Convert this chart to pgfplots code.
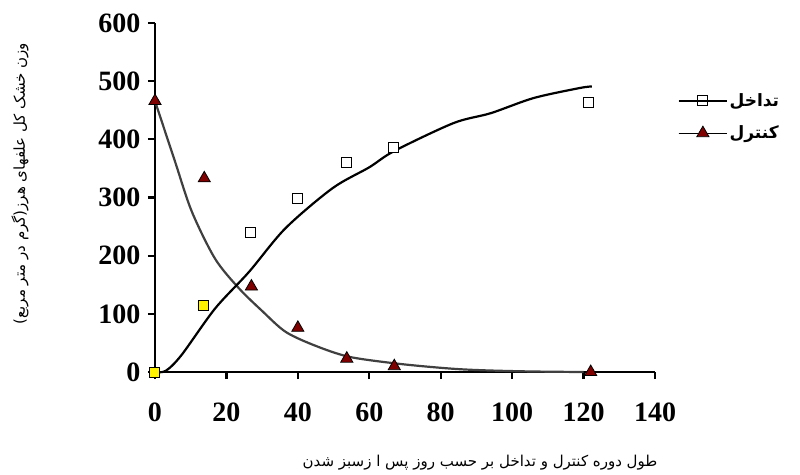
\documentclass[border=0pt]{standalone}
\usepackage{pgfplots}
\pgfplotsset{compat=1.18}
\usepackage{fontspec}
\setmainfont{Liberation Serif}
\newfontfamily\arabicfont[Script=Arabic]{DejaVu Sans}
\TeXXeTstate=1
\definecolor{darkred}{RGB}{128,0,0}
\begin{document}
\begin{tikzpicture}
\begin{axis}[
 width=500pt, height=349pt, scale only axis,
 xmin=0, xmax=140, ymin=0, ymax=600,
 axis x line*=bottom, axis y line*=left,
 axis line style={line width=2.2pt},
 xtick={0,20,...,140}, ytick={0,100,...,600},
 tick style={line width=2.2pt, black}, tick align=outside, major tick length=7pt,
 ticklabel style={font=\bfseries\fontsize{28}{28}\selectfont},
 /pgf/number format/assume math mode=true,
 xticklabel style={yshift=-20pt},
 yticklabel style={xshift=-4pt},
 clip=false,
 legend style={at={(1.04,0.81)}, anchor=north west, draw=none, fill=none, font=\arabicfont\bfseries\fontsize{17}{17}\selectfont, row sep=14pt},
 legend cell align=left,
 legend image code/.code={\draw[#1, line width=1pt] (0cm,0cm) -- (1.7cm,0cm); \path[#1, mark repeat=2, mark phase=2] plot coordinates {(0cm,0cm) (0.85cm,0cm) (1.7cm,0cm)};},
]
\path (rel axis cs:-0.31,-0.295) (rel axis cs:1.29,1.066);
\node[font=\arabicfont\fontsize{15}{15}\selectfont] at (rel axis cs:0.65,-0.26) {\beginR طول دوره کنترل و تداخل بر حسب روز پس ا زسبز شدن\endR};
\node[rotate=90,font=\arabicfont\fontsize{15}{15}\selectfont] at (rel axis cs:-0.27,0.54) {\beginR وزن خشک کل علفهای هرز(گرم در متر مربع)\endR};
\addlegendimage{black, mark=square, mark size=5pt, mark options={fill=white, line width=1pt}}
\addlegendentry{\beginR تداخل\endR}
\addlegendimage{black, mark=triangle*, mark size=7pt, mark options={fill=darkred, draw=black, line width=0.8pt}}
\addlegendentry{\beginR کنترل\endR}
\addplot[color=black!75, line width=2.2pt, smooth, tension=0.5] coordinates {(0,466)(5.6,362)(10.3,276)(16.8,195)(23.5,144)(30,105)(36.6,69)(45,45)(54.5,26)(68.5,14)(82.6,6)(92,3)(105,1)(120,0)};
\addplot[black, line width=2.2pt, smooth, tension=0.5] coordinates {(0,0)(3,2)(7.4,29)(16.8,109)(26.3,172)(36.5,247)(49.7,316)(60,352)(67,380)(83.6,428)(94,445)(106,471)(118.7,488)(122.3,491)};
\addplot[only marks, mark=triangle*, mark size=7pt, mark options={fill=darkred, draw=black, line width=0.8pt}] coordinates {(0,466)(13.8,333)(27,147)(40,76)(53.7,23)(67,10)(122,0)};
\addplot[only marks, mark=square*, mark size=5pt, mark options={fill=white, draw=black, line width=1pt}] coordinates {(26.8,240)(40,299)(53.5,360)(66.7,386)(121.4,463)};
\addplot[only marks, mark=square*, mark size=5pt, mark options={fill=yellow, draw=black, line width=1pt}] coordinates {(0,0)(13.6,114)};
\end{axis}
\end{tikzpicture}
\end{document}
